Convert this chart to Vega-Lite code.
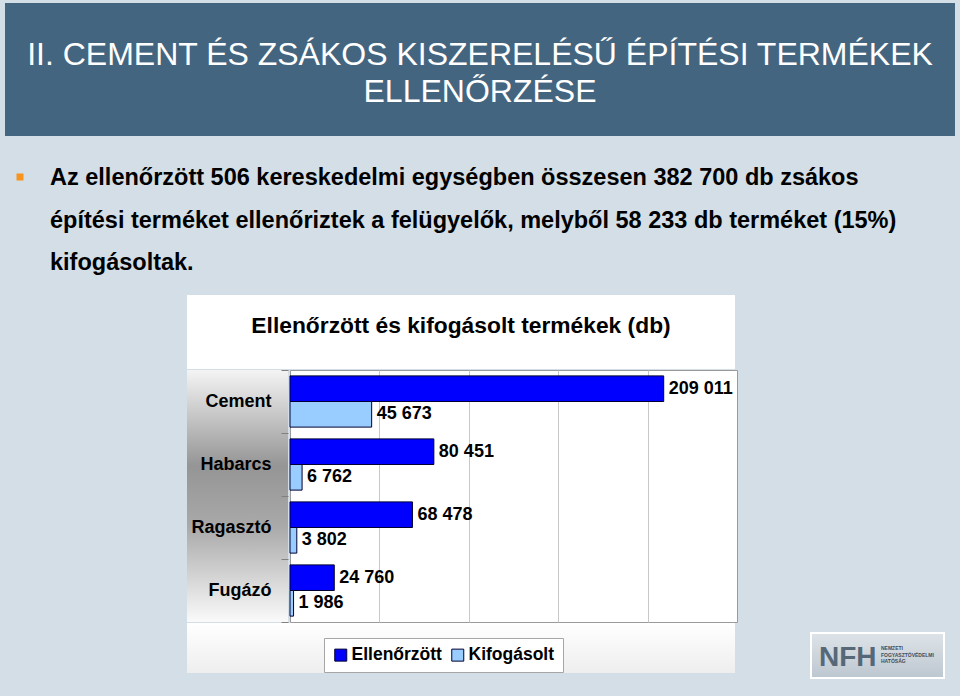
{
  "$schema": "https://vega.github.io/schema/vega-lite/v6.json",
  "background": "#D3DEE6",
  "padding": {"left": 5, "top": 3, "right": 5, "bottom": 18},
  "spacing": 0,
  "config": {
    "view": {"stroke": null},
    "font": "Liberation Sans",
    "locale": {"number": {"decimal": ",", "thousands": " ", "grouping": [3], "currency": ["", " Ft"]}}
  },
  "datasets": {
    "products": [
      {"termek": "Cement", "sorozat": "Ellenőrzött", "db": 209011},
      {"termek": "Cement", "sorozat": "Kifogásolt", "db": 45673},
      {"termek": "Habarcs", "sorozat": "Ellenőrzött", "db": 80451},
      {"termek": "Habarcs", "sorozat": "Kifogásolt", "db": 6762},
      {"termek": "Ragasztó", "sorozat": "Ellenőrzött", "db": 68478},
      {"termek": "Ragasztó", "sorozat": "Kifogásolt", "db": 3802},
      {"termek": "Fugázó", "sorozat": "Ellenőrzött", "db": 24760},
      {"termek": "Fugázó", "sorozat": "Kifogásolt", "db": 1986}
    ],
    "categories": [
      {"termek": "Cement"},
      {"termek": "Habarcs"},
      {"termek": "Ragasztó"},
      {"termek": "Fugázó"}
    ]
  },
  "vconcat": [
    {
      "width": 950,
      "height": 133,
      "view": {"fill": "#44657F", "stroke": null},
      "data": {"values": [{"cim": "II. CEMENT ÉS ZSÁKOS KISZERELÉSŰ ÉPÍTÉSI TERMÉKEK\nELLENŐRZÉSE"}]},
      "mark": {"type": "text", "color": "white", "fontSize": 32, "align": "center", "baseline": "alphabetic", "lineBreak": "\n", "lineHeight": 37, "dy": -4.5},
      "encoding": {"text": {"field": "cim"}}
    },
    {
      "width": 950,
      "height": 159,
      "data": {"values": [{"szoveg": "Az ellenőrzött 506 kereskedelmi egységben összesen 382 700 db zsákos\népítési terméket ellenőriztek a felügyelők, melyből 58 233 db terméket (15%)\nkifogásoltak."}]},
      "layer": [
        {"mark": {"type": "square", "filled": true, "opacity": 1, "color": "#F7941D", "size": 49}, "encoding": {"x": {"value": 15}, "y": {"value": 41}}},
        {"mark": {"type": "text", "align": "left", "baseline": "alphabetic", "fontSize": 23.5, "fontWeight": "bold", "color": "black", "lineBreak": "\n", "lineHeight": 42.5}, "encoding": {"x": {"value": 45}, "y": {"value": 49}, "text": {"field": "szoveg"}}}
      ]
    },
    {
      "spacing": 0,
      "hconcat": [
        {"width": 182, "height": 10, "data": {"values": []}, "mark": "point"},
        {
          "spacing": 0,
          "vconcat": [
            {
              "width": 548,
              "height": 74,
              "view": {"fill": "white", "stroke": null},
              "data": {"values": [{"cim": "Ellenőrzött és kifogásolt termékek (db)"}]},
              "mark": {"type": "text", "fontSize": 22.8, "fontWeight": "bold", "color": "black", "align": "center", "baseline": "alphabetic", "dy": 1},
              "encoding": {"text": {"field": "cim"}}
            },
            {
              "spacing": 0,
              "hconcat": [
                {
                  "width": 101,
                  "height": 252,
                  "view": {"fill": {"gradient": "linear", "x1": 0, "y1": 0, "x2": 0, "y2": 1, "stops": [{"offset": 0, "color": "#F4F4F4"}, {"offset": 0.38, "color": "#959595"}, {"offset": 0.62, "color": "#A9A9A9"}, {"offset": 1, "color": "#FAFAFA"}]}, "stroke": null},
                  "data": {"name": "categories"},
                  "mark": {"type": "text", "align": "right", "baseline": "middle", "dx": 34, "fontSize": 18, "fontWeight": "bold", "color": "black"},
                  "encoding": {
                    "y": {
                      "field": "termek", "type": "nominal",
                      "scale": {"domain": ["Cement", "Habarcs", "Ragasztó", "Fugázó"], "paddingInner": 0, "paddingOuter": 0},
                      "axis": {"title": null, "offset": -101, "minExtent": 0, "domain": false, "labels": false, "ticks": true, "tickBand": "extent", "tickSize": 7, "tickColor": "#808080"}
                    },
                    "text": {"field": "termek"}
                  }
                },
                {
                  "width": 447,
                  "height": 252,
                  "view": {"fill": "white", "stroke": "#9A9A9A"},
                  "data": {"name": "products"},
                  "encoding": {
                    "y": {"field": "termek", "type": "nominal", "scale": {"domain": ["Cement", "Habarcs", "Ragasztó", "Fugázó"], "paddingInner": 0, "paddingOuter": 0}, "axis": null},
                    "yOffset": {"field": "sorozat", "type": "nominal", "scale": {"domain": ["Ellenőrzött", "Kifogásolt"], "paddingInner": 0, "paddingOuter": 0.23}},
                    "x": {"field": "db", "type": "quantitative", "scale": {"domain": [0, 250000], "nice": false}, "axis": {"title": null, "labels": false, "ticks": false, "domain": false, "grid": true, "gridColor": "#C8C8C8", "values": [50000, 100000, 150000, 200000]}}
                  },
                  "layer": [
                    {
                      "mark": {"type": "bar", "stroke": "#000033", "strokeWidth": 1},
                      "encoding": {
                        "color": {
                          "field": "sorozat", "type": "nominal",
                          "scale": {"domain": ["Ellenőrzött", "Kifogásolt"], "range": ["#0000FF", "#99CCFF"]},
                          "legend": {"orient": "none", "legendX": 319, "legendY": 635, "direction": "horizontal", "columns": 2, "title": null, "fillColor": "white", "strokeColor": "#A6A6A6", "padding": 8, "symbolType": "square", "symbolSize": 144, "symbolStrokeColor": "#000033", "symbolStrokeWidth": 1, "symbolOpacity": 1, "labelFontSize": 17.5, "labelFontWeight": "bold", "labelColor": "black", "labelOffset": 2, "columnPadding": 7}
                        }
                      }
                    },
                    {
                      "mark": {"type": "text", "align": "left", "baseline": "middle", "dx": 5, "fontSize": 18, "fontWeight": "bold", "color": "black"},
                      "encoding": {"text": {"field": "db", "type": "quantitative", "format": ",d"}}
                    }
                  ]
                }
              ]
            },
            {
              "width": 548,
              "height": 50,
              "view": {"fill": {"gradient": "linear", "x1": 0, "y1": 0, "x2": 0, "y2": 1, "stops": [{"offset": 0, "color": "#FFFFFF"}, {"offset": 1, "color": "#EEEEEE"}]}, "stroke": null},
              "data": {"values": []},
              "mark": "point"
            }
          ]
        },
        {"width": 72, "height": 10, "data": {"values": []}, "mark": "point"},
        {
          "spacing": 0,
          "vconcat": [
            {"width": 133, "height": 337, "data": {"values": []}, "mark": "point"},
            {
              "width": 133,
              "height": 45,
              "view": {"fill": {"gradient": "linear", "x1": 0, "y1": 0, "x2": 0, "y2": 1, "stops": [{"offset": 0, "color": "#DDE3E8"}, {"offset": 1, "color": "#BDC7D0"}]}, "stroke": "#FFFFFF", "strokeWidth": 2},
              "data": {"values": [{"logo": "NFH", "nev": "NEMZETI\nFOGYASZTÓVÉDELMI\nHATÓSÁG"}]},
              "layer": [
                {"mark": {"type": "text", "fontSize": 28, "fontWeight": "bold", "color": "#566878", "align": "left", "baseline": "alphabetic"}, "encoding": {"x": {"value": 8}, "y": {"value": 33}, "text": {"field": "logo"}}},
                {"mark": {"type": "text", "fontSize": 5, "fontWeight": "bold", "color": "#3D4D5C", "align": "left", "baseline": "alphabetic", "lineBreak": "\n", "lineHeight": 6.5}, "encoding": {"x": {"value": 70}, "y": {"value": 17}, "text": {"field": "nev"}}}
              ]
            }
          ]
        }
      ]
    }
  ]
}
